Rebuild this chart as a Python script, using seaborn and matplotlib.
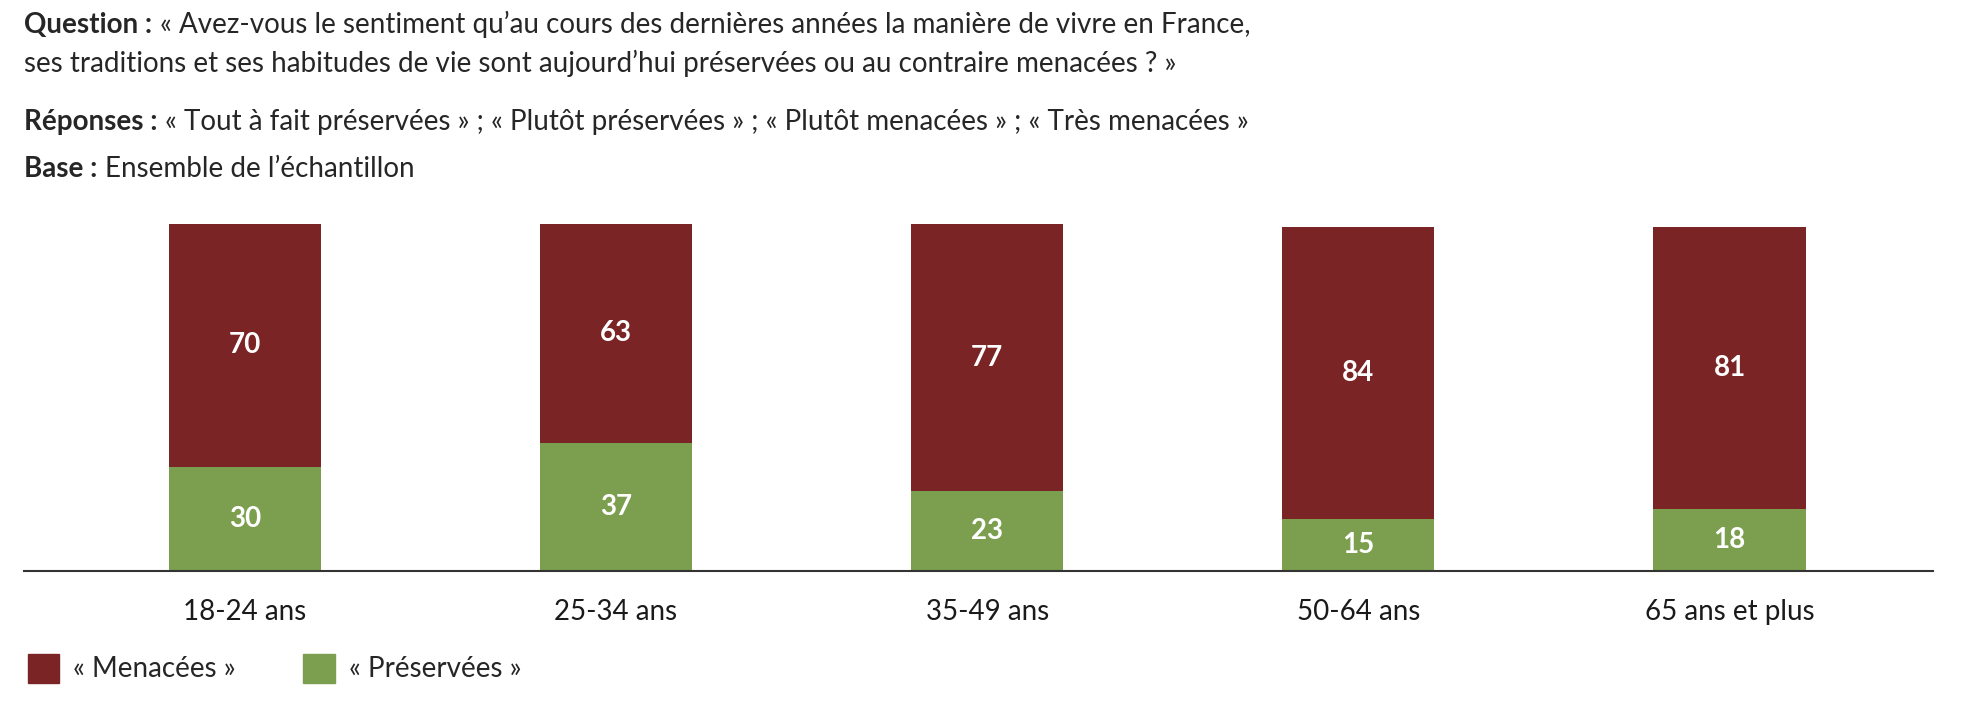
import matplotlib
matplotlib.use("Agg")
import matplotlib.pyplot as plt
import seaborn as sns
import pandas as pd

categories = ["18-24 ans", "25-34 ans", "35-49 ans", "50-64 ans", "65 ans et plus"]
menacees = [70, 63, 77, 84, 81]
preservees = [30, 37, 23, 15, 18]

red = "#7b2425"
green = "#7c9f4f"

sns.set_theme(style="white")
plt.rcParams['font.family'] = ['Lato', 'DejaVu Sans']

df = pd.DataFrame({"cat": categories, "men": menacees, "pre": preservees})
df["total"] = df["men"] + df["pre"]

fig = plt.figure(figsize=(19.7, 7.06), dpi=100)
ax = fig.add_axes([0.012, 0.191, 0.969, 0.492])
sns.barplot(data=df, x="cat", y="total", color=red, width=0.41, saturation=1, linewidth=0, ax=ax)
sns.barplot(data=df, x="cat", y="pre", color=green, width=0.41, saturation=1, linewidth=0, ax=ax)

for i, (m, p) in enumerate(zip(menacees, preservees)):
    ax.text(i, p / 2, str(p), ha="center", va="center", color="white", fontsize=20, fontweight="bold")
    ax.text(i, p + m / 2, str(m), ha="center", va="center", color="white", fontsize=20, fontweight="bold")

ax.set_xlim(-0.596, 4.547)
ax.set_ylim(0, 100)
ax.set_xlabel("")
ax.set_ylabel("")
ax.set_yticks([])
for s in ["top", "left", "right"]:
    ax.spines[s].set_visible(False)
ax.spines["bottom"].set_color("#333333")
ax.spines["bottom"].set_linewidth(1.5)
ax.tick_params(axis="x", length=0, pad=20, labelsize=20, colors="#1a1a1a")

fs = 20
renderer = fig.canvas.get_renderer()


def bold_then_regular(y, bold, regular):
    t = fig.text(0.012, y, bold, fontsize=fs, fontweight="bold", va="center")
    bb = t.get_window_extent(renderer)
    fig.text(bb.x1 / fig.bbox.width + 0.004, y, regular, fontsize=fs, va="center")


bold_then_regular(0.965, "Question :",
                  "« Avez-vous le sentiment qu’au cours des dernières années la manière de vivre en France,")
fig.text(0.012, 0.91, "ses traditions et ses habitudes de vie sont aujourd’hui préservées ou au contraire menacées ? »",
         fontsize=fs, va="center")
bold_then_regular(0.827, "Réponses :",
                  "« Tout à fait préservées » ; « Plutôt préservées » ; « Plutôt menacées » ; « Très menacées »")
bold_then_regular(0.76, "Base :", "Ensemble de l’échantillon")

# légende
fig.patches.append(plt.Rectangle((0.014, 0.032), 0.016, 0.042, color=red, transform=fig.transFigure))
fig.text(0.037, 0.053, "« Menacées »", fontsize=fs, va="center")
fig.patches.append(plt.Rectangle((0.154, 0.032), 0.016, 0.042, color=green, transform=fig.transFigure))
fig.text(0.177, 0.053, "« Préservées »", fontsize=fs, va="center")

fig.savefig("out.png", dpi=100)
